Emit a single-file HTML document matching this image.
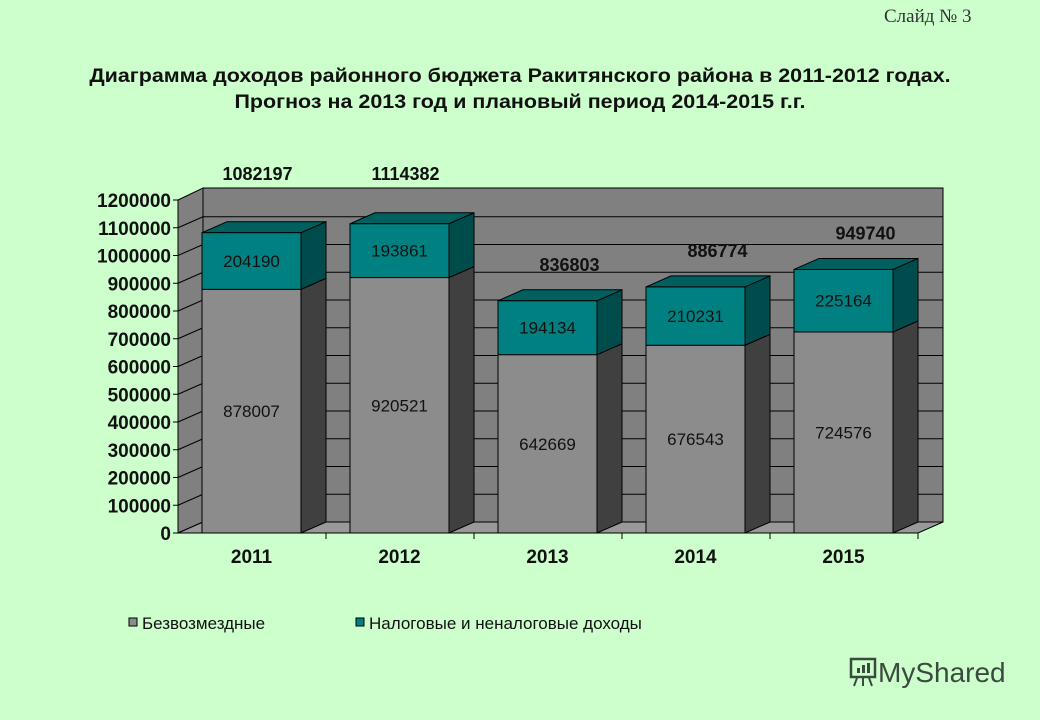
<!DOCTYPE html>
<html><head><meta charset="utf-8">
<style>
html,body{margin:0;padding:0;background:#ccffcc;}
#wrap{position:relative;width:1040px;height:720px;overflow:hidden;background:#ccffcc;font-family:"Liberation Sans",sans-serif;}
.t{position:absolute;}
</style></head>
<body>
<div id="wrap">
<div class="t" style="left:884px;top:6px;font-family:'Liberation Serif',serif;font-size:19px;color:#333;">Слайд № 3</div>
<div class="t" style="left:0;width:1040px;top:64px;text-align:center;font-weight:bold;font-size:19px;line-height:26px;color:#111;transform:scaleX(1.13);transform-origin:520px 0;">Диаграмма доходов районного бюджета Ракитянского района в 2011-2012 годах.<br>Прогноз на 2013 год и плановый период 2014-2015 г.г.</div>
<svg id="chart" width="1040" height="720" style="position:absolute;left:0;top:0;" font-family="Liberation Sans, sans-serif"></svg>
<div class="t" style="left:848px;top:654px;color:#3a4a3e;font-size:28px;">
<svg width="30" height="34" style="vertical-align:-6px"><rect x="3" y="5" width="24" height="18" fill="none" stroke="#3a4a3e" stroke-width="2.5"/><rect x="9" y="14" width="3" height="5" fill="#3a4a3e"/><rect x="14" y="11" width="3" height="8" fill="#3a4a3e"/><rect x="19" y="9" width="3" height="10" fill="#3a4a3e"/><line x1="9" y1="24" x2="6" y2="32" stroke="#3a4a3e" stroke-width="2"/><line x1="15" y1="24" x2="15" y2="32" stroke="#3a4a3e" stroke-width="2"/><line x1="21" y1="24" x2="24" y2="32" stroke="#3a4a3e" stroke-width="2"/></svg>MyShared</div>
</div>
<script>
const categories=['2011','2012','2013','2014','2015'];
const grant=[878007,920521,642669,676543,724576];
const tax=[204190,193861,194134,210231,225164];
const totals=[1082197,1114382,836803,886774,949740];
const yTicks=[0,100000,200000,300000,400000,500000,600000,700000,800000,900000,1000000,1100000,1200000];

const svg=document.getElementById('chart');
const NS='http://www.w3.org/2000/svg';
function mk(tag,attrs,name){const e=document.createElementNS(NS,tag);for(const k in attrs)e.setAttribute(k,attrs[k]);


svg.appendChild(e);return e;}
const X0=178,X1=918,Y0=533,YMAX=1200000,H=333,DX=25,DY=-11;
const y=v=>Y0-v/YMAX*H;
const band=(X1-X0)/categories.length;
const xc=i=>X0+band*i;
mk('polygon',{points:`${X0+DX},${y(YMAX)+DY-1} ${X1+DX},${y(YMAX)+DY-1} ${X1+DX},${Y0+DY} ${X0+DX},${Y0+DY}`,fill:'#808080',stroke:'#000','stroke-width':1},'back-wall');
mk('polygon',{points:`${X0},${y(YMAX)} ${X0+DX},${y(YMAX)+DY-1} ${X0+DX},${Y0+DY} ${X0},${Y0}`,fill:'#808080',stroke:'#000','stroke-width':1},'side-wall');
mk('polygon',{points:`${X0},${Y0} ${X1},${Y0} ${X1+DX},${Y0+DY} ${X0+DX},${Y0+DY}`,fill:'#999',stroke:'#000','stroke-width':1},'floor');
yTicks.forEach(v=>{
  if(v>0&&v<YMAX){
    mk('line',{x1:X0+DX,y1:y(v)+DY,x2:X1+DX,y2:y(v)+DY,stroke:'#000','stroke-width':1},'gridline');
    mk('line',{x1:X0,y1:y(v),x2:X0+DX,y2:y(v)+DY,stroke:'#000','stroke-width':1},'gridline-side');
  }
  mk('line',{x1:X0-5,y1:y(v),x2:X0,y2:y(v),stroke:'#000'},'y-tick');
  const t=mk('text',{x:X0-7,y:y(v)+7,'text-anchor':'end','font-size':19,'font-weight':'bold',fill:'#111'},'y-tick-label');t.textContent=v;
});
mk('line',{x1:X0,y1:y(YMAX),x2:X0,y2:Y0,stroke:'#000'},'y-axis');
mk('line',{x1:X0,y1:Y0,x2:X1,y2:Y0,stroke:'#000'},'x-axis');
function box(x,w,v0,v1,front,side,top,name){
  const ya=y(v0),yb=y(v1);
  mk('polygon',{points:`${x+w},${yb} ${x+w+DX},${yb+DY} ${x+w+DX},${ya+DY} ${x+w},${ya}`,fill:side,stroke:'#000','stroke-width':1},name+'-side');
  mk('polygon',{points:`${x},${yb} ${x+DX},${yb+DY} ${x+w+DX},${yb+DY} ${x+w},${yb}`,fill:top,stroke:'#000','stroke-width':1},name+'-top');
  mk('rect',{x:x,y:yb,width:w,height:ya-yb,fill:front,stroke:'#000','stroke-width':1},name);
}
const BW=99;
categories.forEach((c,i)=>{
  const bx=xc(i)+24;
  mk('line',{x1:xc(i+1),y1:Y0,x2:xc(i+1),y2:Y0+6,stroke:'#000'},'x-tick');
  box(bx,BW,0,grant[i],'#8c8c8c','#404040','#666','bar-grant-'+c);
  box(bx,BW,grant[i],grant[i]+tax[i],'#008080','#004c4c','#006060','bar-tax-'+c);
  let t=mk('text',{x:bx+BW/2,y:(y(0)+y(grant[i]))/2+6,'text-anchor':'middle','font-size':17,fill:'#111'},'grant-value');t.textContent=grant[i];
  t=mk('text',{x:bx+BW/2,y:(y(grant[i])+y(grant[i]+tax[i]))/2+6,'text-anchor':'middle','font-size':17,fill:'#111'},'tax-value');t.textContent=tax[i];
  t=mk('text',{x:bx+BW/2,y:Y0+30,'text-anchor':'middle','font-size':19,'font-weight':'bold',fill:'#111'},'x-tick-label');t.textContent=c;
  const ty=i<2?180:y(totals[i])-30;
  t=mk('text',{x:bx+BW/2+(i<2?6:22),y:ty,'text-anchor':'middle','font-size':18,'font-weight':'bold',fill:'#111'},'total-label');t.textContent=totals[i];
});
mk('rect',{x:129,y:618,width:8,height:8,fill:'#8c8c8c',stroke:'#000'},'legend-swatch-grant');
let lt=mk('text',{x:142,y:629,'font-size':17,fill:'#111'},'legend-label-grant');lt.textContent='Безвозмездные';
mk('rect',{x:356,y:618,width:8,height:8,fill:'#008080',stroke:'#000'},'legend-swatch-tax');
lt=mk('text',{x:369,y:629,'font-size':17,fill:'#111'},'legend-label-tax');lt.textContent='Налоговые и неналоговые доходы';
</script>
</body></html>
